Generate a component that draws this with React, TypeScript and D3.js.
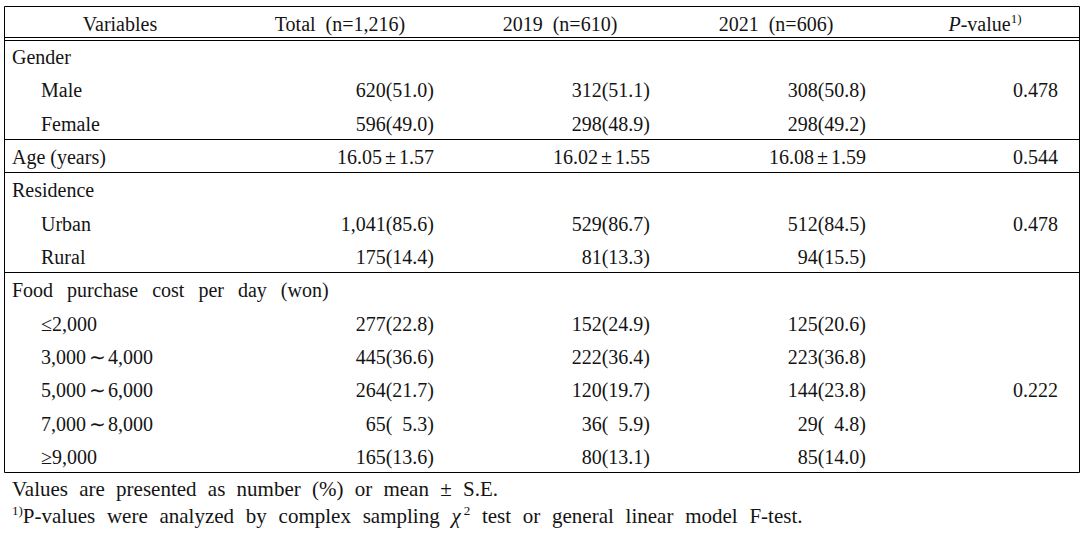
import React from "react";
import * as d3 from "d3";

// ---------- data ----------
const headerLabels = ["Variables", "Total\u2002(n=1,216)", "2019\u2002(n=610)", "2021\u2002(n=606)"];
const rowLabels = [
  "Gender",
  "Male",
  "Female",
  "Age (years)",
  "Residence",
  "Urban",
  "Rural",
  "Food purchase cost per day (won)",
  "≤2,000",
  "3,000∼4,000",
  "5,000∼6,000",
  "7,000∼8,000",
  "≥9,000",
];
const rowLevel = [0, 1, 1, 0, 0, 1, 1, 0, 1, 1, 1, 1, 1];
const totalValues = ["", "620(51.0)", "596(49.0)", "16.05±1.57", "", "1,041(85.6)", "175(14.4)", "", "277(22.8)", "445(36.6)", "264(21.7)", "65(  5.3)", "165(13.6)"];
const values2019 = ["", "312(51.1)", "298(48.9)", "16.02±1.55", "", "529(86.7)", "81(13.3)", "", "152(24.9)", "222(36.4)", "120(19.7)", "36(  5.9)", "80(13.1)"];
const values2021 = ["", "308(50.8)", "298(49.2)", "16.08±1.59", "", "512(84.5)", "94(15.5)", "", "125(20.6)", "223(36.8)", "144(23.8)", "29(  4.8)", "85(14.0)"];
const pValueRows = [1, 3, 5, 10];
const pValues = ["0.478", "0.544", "0.478", "0.222"];
const groupEndRows = [2, 3, 6, 12];

const W = 1088;
const H = 535;
const FONT = "'Liberation Serif', 'Times New Roman', 'Noto Serif CJK KR', serif";
const FS = 20;
const INK = "#141414";

const SYM: Record<string, [number, number]> = {
  "±": [3, 3],
  "≤": [0, 0],
  "≥": [0, 0],
  "∼": [2.5, 2.5],
};

function rich(s: string) {
  const out: React.ReactNode[] = [];
  let buf = "";
  let pending = 0;
  let k = 0;
  const flush = () => {
    if (buf) {
      out.push(
        <tspan key={k++} dx={pending || undefined}>
          {buf}
        </tspan>
      );
      pending = 0;
      buf = "";
    }
  };
  for (const ch of s) {
    if (SYM[ch]) {
      flush();
      const [pre, post] = SYM[ch];
      out.push(
        <tspan key={k++} dx={pre + pending || undefined}>
          {ch}
        </tspan>
      );
      pending = post;
    } else buf += ch;
  }
  flush();
  return out;
}

export default function App() {
  const y = d3.scaleLinear().domain([0, rowLabels.length - 1]).range([64, 464]);
  const col = d3
    .scaleOrdinal<string, number>()
    .domain(["label", "total", "y2019", "y2021", "p"])
    .range([12, 434, 650, 866, 1058]);
  const headCenter = d3
    .scaleOrdinal<string, number>()
    .domain(headerLabels.concat(["P"]))
    .range([120, 340, 560, 776, 985]);

  const left = 4.5;
  const right = 1079.5;
  const top = 6.5;
  const lineY = (i: number) => Math.round(y(i) + 8) + 0.5;
  const bottom = lineY(rowLabels.length - 1);

  return (
    <svg
      width={W}
      height={H}
      style={{ position: "absolute", left: 0, top: 0, background: "#fff" }}
      fontFamily={FONT}
      fontSize={FS}
      fill={INK}
    >
      {/* borders */}
      <g stroke="#000" strokeWidth={1} fill="none">
        <line x1={left} x2={right} y1={top} y2={top} />
        <line x1={left} x2={right} y1={37.5} y2={37.5} />
        <line x1={left} x2={right} y1={40.5} y2={40.5} />
        {groupEndRows.map((r) => (
          <line key={r} x1={left} x2={right} y1={lineY(r)} y2={lineY(r)} />
        ))}
        <line x1={left} x2={left} y1={top} y2={bottom} />
        <line x1={right} x2={right} y1={top} y2={bottom} />
      </g>

      {/* header */}
      {headerLabels.map((h) => (
        <text key={h} x={headCenter(h)} y={30.5} textAnchor="middle">
          {h}
        </text>
      ))}
      <text x={headCenter("P")} y={30.5} textAnchor="middle">
        <tspan fontStyle="italic">P</tspan>
        <tspan>-value</tspan>
        <tspan fontSize={13} dy={-8}>
          1)
        </tspan>
      </text>

      {/* rows */}
      {rowLabels.map((lab, i) => (
        <g key={i}>
          <text
            x={col("label") + rowLevel[i] * 29}
            y={y(i)}
            style={{ wordSpacing: lab.startsWith("Food") ? "9px" : undefined }}
          >
            {rich(lab)}
          </text>
          <text x={col("total")} y={y(i)} textAnchor="end" style={{ whiteSpace: "pre" }}>
            {rich(totalValues[i])}
          </text>
          <text x={col("y2019")} y={y(i)} textAnchor="end" style={{ whiteSpace: "pre" }}>
            {rich(values2019[i])}
          </text>
          <text x={col("y2021")} y={y(i)} textAnchor="end" style={{ whiteSpace: "pre" }}>
            {rich(values2021[i])}
          </text>
        </g>
      ))}
      {pValueRows.map((r, i) => (
        <text key={i} x={col("p")} y={y(r)} textAnchor="end">
          {pValues[i]}
        </text>
      ))}

      {/* footnotes */}
      <text x={12} y={496} fontSize={21} style={{ wordSpacing: "6px" }}>
        Values are presented as number (%) or mean ± S.E.
      </text>
      <text x={12} y={523} fontSize={21} style={{ wordSpacing: "6.5px" }}>
        <tspan fontSize={13} dy={-8}>
          1)
        </tspan>
        <tspan dy={8}>P-values were analyzed by complex sampling </tspan>
        <tspan fontStyle="italic">χ</tspan>
        <tspan fontSize={13} dy={-8} dx={3}>
          2
        </tspan>
        <tspan dy={8}> test or general linear model F-test.</tspan>
      </text>
    </svg>
  );
}
